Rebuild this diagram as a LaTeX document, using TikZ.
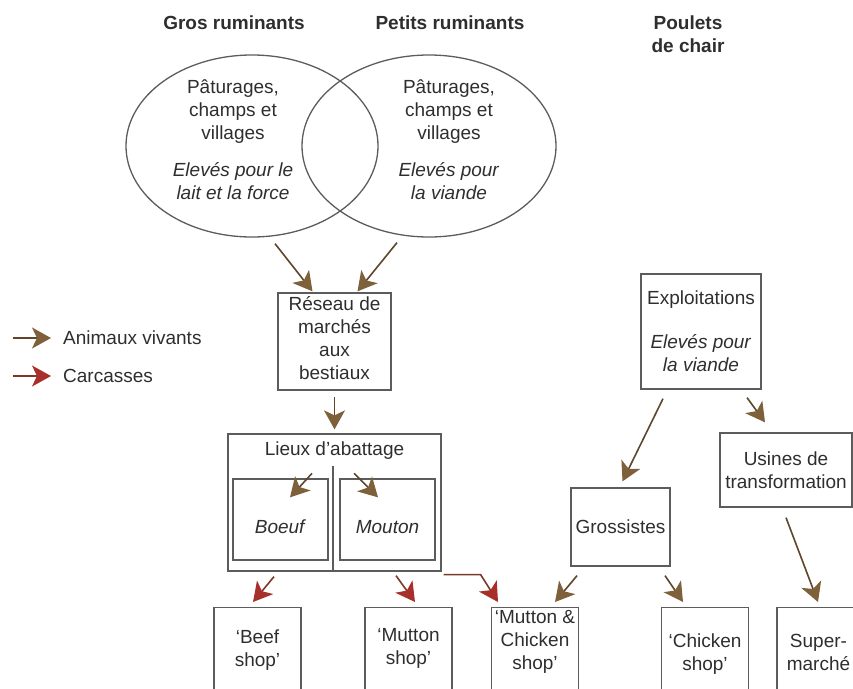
\documentclass[tikz,border=0pt]{standalone}
\usepackage{fontspec}
\setmainfont{Liberation Sans}
\usepackage{xcolor}
\usetikzlibrary{positioning, calc, arrows.meta, shapes.geometric}
\definecolor{livebrown}{HTML}{5E452B}
\definecolor{livehead}{HTML}{7E603B}
\definecolor{carcline}{HTML}{7A3A2A}
\definecolor{carcred}{HTML}{A8302A}
\definecolor{inkgray}{HTML}{2E2E2E}
\definecolor{edgegray}{HTML}{5C5C5C}

\begin{document}
\begin{tikzpicture}[x=1pt, y=-1pt,
    every node/.style={text=inkgray, font=\fontsize{19}{23}\selectfont, inner sep=0pt},
    title/.style={font=\fontsize{19}{23}\selectfont\bfseries, align=center},
    zone/.style={draw=edgegray, line width=1.3pt, ellipse, minimum width=252pt, minimum height=182pt},
    box/.style={draw=edgegray, line width=1.3pt, align=center},
    shopbox/.style={box, minimum width=87pt, minimum height=100pt, anchor=north},
    live/.style={draw=livebrown, line width=1.6pt, -{Stealth[length=19pt, width=21pt, inset=5pt, color=livehead]}},
    carc/.style={draw=carcline, line width=1.6pt, -{Stealth[length=19pt, width=21pt, inset=5pt, color=carcred]}}]

    \useasboundingbox (0,0) rectangle (853,688);
    \clip (0,0) rectangle (853,688);

    % --- Column titles ---
    \node[title] (tGros) at (234,23) {Gros ruminants};
    \node[title] (tPetits) at (450,23) {Petits ruminants};
    \node[title] (tPoulets) at (688,34) {Poulets\\de chair};

    % --- Ruminant zones (two overlapping ellipses) ---
    \node[zone] (elG) at (252,146) {};
    \node[zone, minimum width=254pt] (elP) at (429,146) {};
    \node[align=center] (txtG) at (233,140)
        {P\^aturages,\\champs et\\villages\\[14pt]\textit{Elev\'es pour le}\\\textit{lait et la force}};
    \node[align=center] (txtP) at (449,140)
        {P\^aturages,\\champs et\\villages\\[14pt]\textit{Elev\'es pour}\\\textit{la viande}};

    % --- Legend ---
    \coordinate (lgLive) at (13,338);
    \coordinate (lgCarc) at (13,376);
    \node[anchor=west] (legLive) at (63,338) {Animaux vivants};
    \node[anchor=west] (legCarc) at (63,376) {Carcasses};
    \draw[live] (lgLive) -- ($(legLive.west)+(-12,0)$);
    \draw[carc] (lgCarc) -- ($(legCarc.west)+(-12,0)$);

    % --- Ruminant chain ---
    \node[box, minimum width=113pt, minimum height=97pt, text depth=8pt] (reseau) at (334.5,341.5)
        {R\'eseau de\\march\'es\\aux\\bestiaux};
    \node[box, minimum width=213pt, minimum height=137pt] (lieux) at (334.5,502.5) {};
    \node[below=8pt of lieux.north] (tLieux) {Lieux d'abattage};
    \node[box, minimum width=95pt, minimum height=81pt, text height=28pt] (boeuf) at (280.5,519.5) {\textit{Boeuf}};
    \node[box, minimum width=95pt, minimum height=81pt, text height=28pt] (mouton) at (387.5,519.5) {\textit{Mouton}};
    % divider between the two halves
    \draw[edgegray, line width=1.3pt] ($(lieux.south)+(-1.5,0)$) -- ++(0,-106);

    % --- Poultry chain ---
    \node[box, minimum width=120pt, minimum height=115pt] (expl) at (701,331.5)
        {Exploitations\\[21pt]\textit{Elev\'es pour}\\\textit{la viande}};
    \node[box, minimum width=99pt, minimum height=78pt] (gross) at (620.5,527) {Grossistes};
    \node[box, minimum width=132pt, minimum height=74pt] (usines) at (786,470) {Usines de\\transformation};

    % --- Shops (cut by the bottom edge) ---
    \node[shopbox] (beef) at (257.5,607) {};
    \node[shopbox] (mutton) at (408.5,607) {};
    \node[shopbox] (mc) at (535,607) {};
    \node[shopbox] (chicken) at (705,607) {};
    \node[shopbox] (super) at (820.5,607) {};
    \node[align=center] (beefTxt) at ($(beef.north)+(0,43)$) {`Beef\\shop'};
    \node[align=center] (muttonTxt) at ($(mutton.north)+(0,41)$) {`Mutton\\shop'};
    \node[align=center] (mcTxt) at ($(mc.north)+(0,35)$) {`Mutton \&\\Chicken\\shop'};
    \node[align=center] (chickenTxt) at ($(chicken.north)+(0,47)$) {`Chicken\\shop'};
    \node[align=center] (superTxt) at ($(super.north)+(-2,45)$) {Super-\\march\'e};

    % --- Live animal flows ---
    \draw[live] ($(elG.south)+(23,6)$) -- ($(reseau.north)+(-22,-1)$);
    \draw[live] ($(elP.south)+(-32,5)$) -- ($(reseau.north)+(23,-1)$);
    \draw[live] ($(reseau.south)+(0,6)$) -- ($(lieux.north)+(0,-4)$);
    \draw[live] ($(boeuf.north)+(31.5,-5)$) -- ($(boeuf.north)+(9.5,19)$);
    \draw[live] ($(mouton.north)+(-33.5,-5)$) -- ($(mouton.north)+(-9.5,19)$);
    \draw[live] ($(expl.south)+(-38,9)$) -- ($(gross.north)+(2,-6)$);
    \draw[live] ($(expl.south)+(46,8)$) -- ($(usines.north)+(-21,-10)$);
    \draw[live] ($(usines.south)+(0,10)$) -- ($(super.north)+(-2.5,-5)$);
    \draw[live] ($(gross.south)+(-43.5,9)$) -- ($(mc.north)+(20,-5)$);
    \draw[live] ($(gross.south)+(44.5,9)$) -- ($(chicken.north)+(-22,-5)$);

    % --- Carcass flows ---
    \draw[carc] ($(boeuf.south)+(-6.5,16)$) -- ($(beef.north)+(-4.5,-5)$);
    \draw[carc] ($(mouton.south)+(8.5,15)$) -- ($(mutton.north)+(6.5,-5)$);
    \draw[carc] ($(lieux.south east)+(2,3)$) -- ++(37,0) -- ($(mc.north)+(-37,-5)$);

\end{tikzpicture}
\end{document}
